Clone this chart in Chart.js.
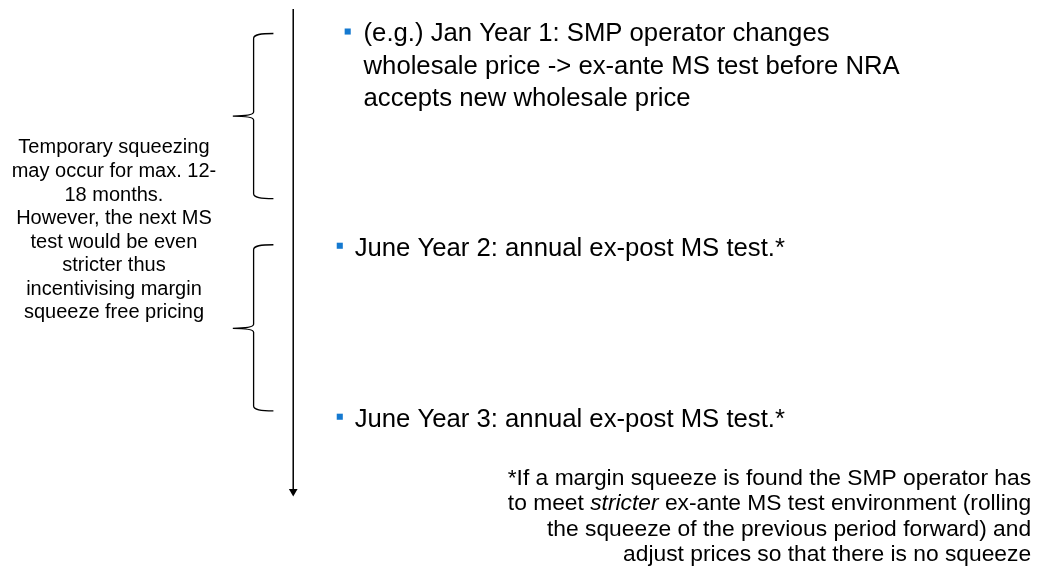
<!DOCTYPE html>
<html>
<head>
<meta charset="utf-8">
<script src="https://cdn.jsdelivr.net/npm/chart.js@4/dist/chart.umd.min.js"></script>
<style>
  html, body { margin: 0; padding: 0; background: #fff; }
  #wrap { width: 1047px; height: 576px; }
</style>
</head>
<body>
<div id="wrap"><canvas id="c" width="1047" height="576"></canvas></div>
<script>
// ---- diagram data (in a 1047 x 576 data space, y grows downward) ----
const timelineX = [291, 291];
const timelineY = [4, 495];

const bulletX = [346, 338, 338];
const bulletY = [27, 245, 419];
const bulletTextX = [362, 353, 353];
const bulletLines = [
  ["(e.g.) Jan Year 1: SMP operator changes",
   "wholesale price -> ex-ante MS test before NRA",
   "accepts new wholesale price"],
  ["June Year 2: annual ex-post MS test.*"],
  ["June Year 3: annual ex-post MS test.*"]
];

const braceTop = [29, 244];
const braceMid = [113, 329];
const braceBottom = [197, 413];
const braceStemX = 251;
const braceTipX = 230;
const braceEndX = 271;

const sideNoteX = 110;
const sideNoteY = 151;
const sideNoteLines = [
  "Temporary squeezing",
  "may occur for max. 12-",
  "18 months.",
  "However, the next MS",
  "test would be even",
  "stricter thus",
  "incentivising margin",
  "squeeze free pricing"
];

const footnoteRightX = 1036;
const footnoteY = 488;
// each line is a list of [text, italic]
const footnoteLines = [
  [["*If a margin squeeze is found the SMP operator has", false]],
  [["to meet ", false], ["stricter", true], [" ex-ante MS test environment (rolling", false]],
  [["the squeeze of the previous period forward) and", false]],
  [["adjust prices so that there is no squeeze", false]]
];

// ---- styles ----
const FONT = '"Liberation Sans", Arial, sans-serif';
const BULLET_COLOR = '#1479D0';

const bracePlugin = {
  id: 'braces',
  afterDatasetsDraw(chart) {
    const ctx = chart.ctx;
    const xs = chart.scales.x, ys = chart.scales.y;
    const X = v => xs.getPixelForValue(v);
    const Y = v => ys.getPixelForValue(v);
    ctx.save();
    ctx.strokeStyle = '#000';
    ctx.lineWidth = 1.3;
    for (let i = 0; i < braceTop.length; i++) {
      const t = braceTop[i], m = braceMid[i], b = braceBottom[i];
      ctx.beginPath();
      ctx.moveTo(X(braceEndX), Y(t));
      ctx.bezierCurveTo(X(braceStemX + 7), Y(t), X(braceStemX), Y(t + 1), X(braceStemX), Y(t + 5));
      ctx.lineTo(X(braceStemX), Y(m - 4));
      ctx.quadraticCurveTo(X(braceStemX), Y(m), X(braceTipX), Y(m));
      ctx.quadraticCurveTo(X(braceStemX), Y(m), X(braceStemX), Y(m + 4));
      ctx.lineTo(X(braceStemX), Y(b - 5));
      ctx.bezierCurveTo(X(braceStemX), Y(b - 1), X(braceStemX + 7), Y(b), X(braceEndX), Y(b));
      ctx.stroke();
    }
    ctx.restore();
  }
};

const textPlugin = {
  id: 'texts',
  afterDatasetsDraw(chart) {
    const ctx = chart.ctx;
    const xs = chart.scales.x, ys = chart.scales.y;
    const X = v => xs.getPixelForValue(v);
    const Y = v => ys.getPixelForValue(v);
    ctx.save();
    ctx.fillStyle = '#000';
    ctx.textBaseline = 'alphabetic';

    // bullet texts
    ctx.font = '25.7px ' + FONT;
    ctx.textAlign = 'left';
    bulletLines.forEach((lines, i) => {
      lines.forEach((ln, j) => {
        ctx.fillText(ln, X(bulletTextX[i]), Y(bulletY[i] + 10 + j * 33));
      });
    });

    // side note
    ctx.font = '20px ' + FONT;
    ctx.textAlign = 'center';
    sideNoteLines.forEach((ln, j) => {
      ctx.fillText(ln, X(sideNoteX), Y(sideNoteY + j * 24));
    });

    // footnote, right aligned with mixed italic
    ctx.textAlign = 'left';
    const fs = '22.8px ';
    footnoteLines.forEach((segs, j) => {
      let total = 0;
      segs.forEach(([t, it]) => {
        ctx.font = (it ? 'italic ' : '') + fs + FONT;
        total += ctx.measureText(t).width;
      });
      let x = X(footnoteRightX) - total;
      const y = Y(footnoteY + j * 26);
      segs.forEach(([t, it]) => {
        ctx.font = (it ? 'italic ' : '') + fs + FONT;
        ctx.fillText(t, x, y);
        x += ctx.measureText(t).width;
      });
    });
    ctx.restore();
  }
};

new Chart(document.getElementById('c'), {
  type: 'scatter',
  data: {
    datasets: [
      {
        type: 'line',
        data: timelineX.map((x, i) => ({ x: x, y: timelineY[i] })),
        borderColor: '#000',
        borderWidth: 1.5,
        backgroundColor: '#000',
        pointStyle: 'triangle',
        pointRotation: 180,
        pointRadius: [0, 5],
        pointBorderWidth: 0,
        pointBackgroundColor: '#000',
        fill: false,
        tension: 0
      },
      {
        data: bulletX.map((x, i) => ({ x: x, y: bulletY[i] })),
        pointStyle: 'rect',
        pointRadius: 4.3,
        pointBorderWidth: 0,
        backgroundColor: BULLET_COLOR,
        borderColor: BULLET_COLOR
      }
    ]
  },
  options: {
    responsive: false,
    animation: false,
    devicePixelRatio: 1,
    layout: { padding: 0 },
    events: [],
    plugins: { legend: { display: false }, tooltip: { enabled: false }, title: { display: false } },
    scales: {
      x: { type: 'linear', min: 0, max: 1047, display: false },
      y: { type: 'linear', min: 0, max: 576, reverse: true, display: false }
    }
  },
  plugins: [bracePlugin, textPlugin]
});
</script>
</body>
</html>
